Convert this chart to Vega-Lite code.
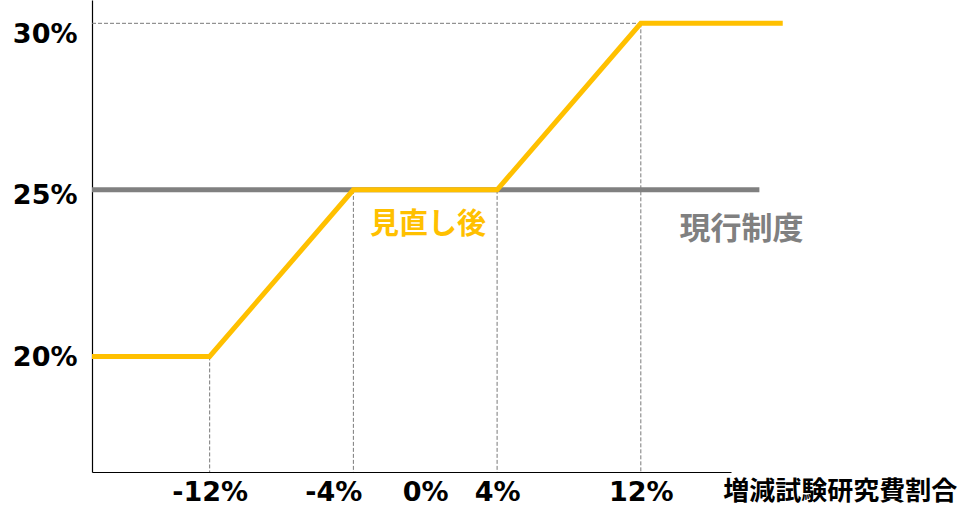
{
  "$schema": "https://vega.github.io/schema/vega-lite/v6.json",
  "width": 639,
  "height": 472,
  "autosize": "none",
  "padding": {"left": 92, "top": 0, "right": 230, "bottom": 34},
  "background": "white",
  "config": {"view": {"stroke": null}},
  "datasets": {
    "revised": [
      {"x": -18.55, "y": 20},
      {"x": -12, "y": 20},
      {"x": -4, "y": 25},
      {"x": 4, "y": 25},
      {"x": 12, "y": 30},
      {"x": 19.9, "y": 30}
    ],
    "current": [
      {"x": -18.55, "y": 25},
      {"x": 18.6, "y": 25}
    ],
    "guides": [
      {"x": -12, "top": 20},
      {"x": -4, "top": 25},
      {"x": 4, "top": 25},
      {"x": 12, "top": 30}
    ]
  },
  "layer": [
    {
      "data": {"name": "guides"},
      "mark": {"type": "rule", "color": "#7a7a7a", "strokeWidth": 1, "strokeDash": [4, 2]},
      "encoding": {
        "x": {
          "field": "x", "type": "quantitative",
          "scale": {"domain": [-18.55, 17.02], "nice": false, "zero": false},
          "axis": {
            "values": [-12, -4, 0, 4, 12],
            "labelExpr": "datum.value + '%'",
            "labelFont": "DejaVu Sans",
            "labelFontWeight": "bold",
            "labelFontSize": 27,
            "labelColor": "#000000",
            "labelPadding": 7,
            "labelOffset": {"expr": "datum.value == -4 ? -20 : 0"},
            "ticks": false,
            "grid": false,
            "domainColor": "#000000",
            "domainWidth": 1.2,
            "title": null
          }
        },
        "y": {
          "field": "top", "type": "quantitative",
          "scale": {"domain": [16.53, 30.7], "nice": false, "zero": false},
          "axis": {
            "values": [20, 25, 30],
            "labelExpr": "datum.value + '%'",
            "labelFont": "DejaVu Sans",
            "labelFontWeight": "bold",
            "labelFontSize": 27,
            "labelColor": "#000000",
            "labelPadding": 15,
            "labelOffset": {"expr": "datum.value == 30 ? 11 : datum.value == 25 ? 6 : 1"},
            "ticks": false,
            "grid": false,
            "domainColor": "#000000",
            "domainWidth": 1.2,
            "title": null
          }
        },
        "y2": {"datum": 16.53}
      }
    },
    {
      "data": {"values": [{"x0": -18.55, "x1": 12, "y": 30}]},
      "mark": {"type": "rule", "color": "#7a7a7a", "strokeWidth": 1, "strokeDash": [4, 2]},
      "encoding": {
        "x": {"field": "x0", "type": "quantitative"},
        "x2": {"field": "x1"},
        "y": {"field": "y", "type": "quantitative"}
      }
    },
    {
      "data": {"name": "current"},
      "mark": {"type": "line", "color": "#808080", "strokeWidth": 5},
      "encoding": {
        "x": {"field": "x", "type": "quantitative"},
        "y": {"field": "y", "type": "quantitative"}
      }
    },
    {
      "data": {"name": "revised"},
      "mark": {"type": "line", "color": "#FFC000", "strokeWidth": 5},
      "encoding": {
        "x": {"field": "x", "type": "quantitative"},
        "y": {"field": "y", "type": "quantitative"}
      }
    },
    {
      "data": {"values": [{"label": "見直し後", "x": 0.15, "y": 23.95}]},
      "mark": {"type": "text", "color": "#FFC000", "font": "Noto Sans CJK JP", "fontWeight": "bold", "fontSize": 29, "align": "center", "baseline": "middle"},
      "encoding": {
        "x": {"field": "x", "type": "quantitative"},
        "y": {"field": "y", "type": "quantitative"},
        "text": {"field": "label"}
      }
    },
    {
      "data": {"values": [{"label": "現行制度", "x": 17.6, "y": 23.8}]},
      "mark": {"type": "text", "color": "#808080", "font": "Noto Sans CJK JP", "fontWeight": "bold", "fontSize": 31, "align": "center", "baseline": "middle"},
      "encoding": {
        "x": {"field": "x", "type": "quantitative"},
        "y": {"field": "y", "type": "quantitative"},
        "text": {"field": "label"}
      }
    },
    {
      "data": {"values": [{"label": "増減試験研究費割合", "x": 23.1, "y": 15.93}]},
      "mark": {"type": "text", "color": "#000000", "font": "Noto Sans CJK JP", "fontWeight": "bold", "fontSize": 26, "align": "center", "baseline": "middle"},
      "encoding": {
        "x": {"field": "x", "type": "quantitative"},
        "y": {"field": "y", "type": "quantitative"},
        "text": {"field": "label"}
      }
    }
  ]
}
